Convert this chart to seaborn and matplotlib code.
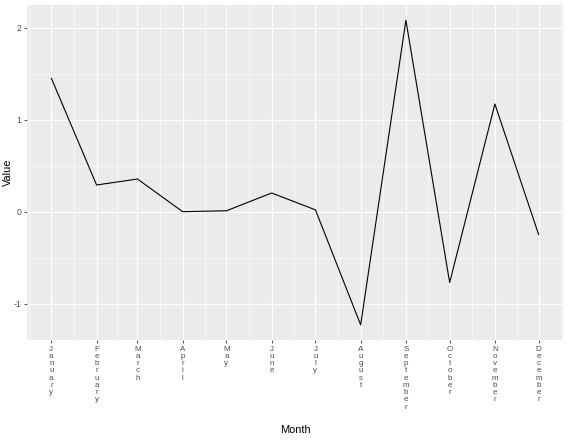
import pandas as pd
import matplotlib.pyplot as plt
import seaborn as sns
import numpy as np

months = ['January', 'February', 'March', 'April', 'May', 'June', 'July',
          'August', 'September', 'October', 'November', 'December']
values = [1.45, 0.29, 0.355, 0.0, 0.01, 0.203, 0.02, -1.23, 2.08, -0.77, 1.17, -0.25]
dates = pd.date_range('2021-01-01', periods=12, freq='MS')
y_ticks = [-1, 0, 1, 2]

df = pd.DataFrame({'Month': dates, 'Value': values})

sns.set_theme(style="darkgrid", rc={
    'axes.facecolor': '#EBEBEB',
    'grid.color': 'white',
    'axes.edgecolor': 'white',
})
plt.rcParams['font.family'] = ['Liberation Sans', 'DejaVu Sans']

fig = plt.figure(figsize=(5.67, 4.4), dpi=100)
ax = fig.add_axes([0.0476, 0.227, 0.9454, 0.7616])

sns.lineplot(data=df, x='Month', y='Value', color='black', linewidth=0.8, ax=ax)

# ggplot-like expansion of 5%
span = dates[-1] - dates[0]
ax.set_xlim(dates[0] - span * 0.05, dates[-1] + span * 0.05)
vmin, vmax = min(values), max(values)
r = vmax - vmin
ax.set_ylim(vmin - 0.05 * r, vmax + 0.05 * r)

# major / minor breaks
ax.set_xticks(dates)
ax.set_xticklabels(['\n'.join(m) for m in months], fontsize=5.8, color='#4D4D4D',
                   linespacing=1.05, va='top')
mids = [dates[i] + (dates[i + 1] - dates[i]) / 2 for i in range(11)]
mids = [dates[0] - pd.Timedelta(days=15.5)] + mids + [dates[-1] + pd.Timedelta(days=15.5)]
ax.set_xticks(mids, minor=True)
ax.set_yticks(y_ticks)
ax.set_yticklabels([str(v) for v in y_ticks], fontsize=6.3, color='#4D4D4D')
ax.set_yticks([-0.5, 0.5, 1.5], minor=True)

ax.grid(which='major', color='white', linewidth=0.8)
ax.grid(which='minor', color='white', linewidth=0.4)
ax.tick_params(which='major', length=2, width=0.6, color='#333333', pad=2, bottom=True, left=True)
ax.tick_params(which='minor', length=0)
for s in ax.spines.values():
    s.set_visible(False)

ax.set_xlabel('Month', fontsize=7.9, color='black', va='center')
ax.set_ylabel('Value', fontsize=7.9, color='black', va='center')
ax.xaxis.set_label_coords(0.5, -0.269)
ax.yaxis.set_label_coords(-0.036, 0.5)

fig.savefig('out.png', dpi=100)
